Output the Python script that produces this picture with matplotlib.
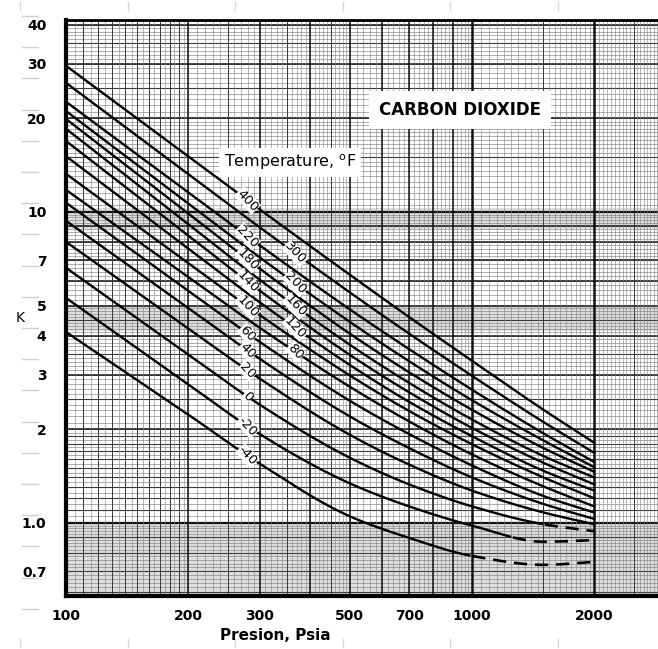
import numpy as np
import matplotlib
matplotlib.use("Agg")
import matplotlib.pyplot as plt
from matplotlib.lines import Line2D

# ---- data: K-values of CO2 vs pressure (psia) for each temperature (deg F) ----
pressure = [100, 200, 300, 500, 700, 1000, 1500, 2000]

k_400 = [29.5, 15.10, 10.19, 6.28, 4.59, 3.32, 2.31, 1.81]
k_300 = [26.0, 13.24, 8.92, 5.51, 4.06, 2.97, 2.11, 1.68]
k_220 = [22.6, 11.55, 7.81, 4.86, 3.62, 2.68, 1.94, 1.57]
k_200 = [21.1, 10.65, 7.14, 4.43, 3.31, 2.48, 1.84, 1.51]
k_180 = [19.9, 9.89, 6.57, 4.06, 3.05, 2.31, 1.74, 1.46]
k_160 = [18.5, 9.14, 6.05, 3.74, 2.82, 2.15, 1.64, 1.40]
k_140 = [16.9, 8.40, 5.58, 3.47, 2.63, 2.02, 1.56, 1.33]
k_120 = [15.1, 7.63, 5.12, 3.22, 2.45, 1.90, 1.47, 1.27]
k_100 = [13.25, 6.85, 4.66, 2.98, 2.29, 1.79, 1.40, 1.20]
k_80 = [11.77, 6.18, 4.24, 2.74, 2.12, 1.66, 1.31, 1.13]
k_60 = [10.7, 5.58, 3.82, 2.47, 1.93, 1.53, 1.22, 1.08]
k_40 = [9.36, 4.91, 3.37, 2.20, 1.74, 1.40, 1.15, 1.03]
k_20 = [8.01, 4.22, 2.91, 1.92, 1.54, 1.27, 1.08, 0.99]
k_0 = [6.61, 3.48, 2.40, 1.62, 1.33, 1.13, 0.99, 0.94]
k_m20 = [5.29, 2.79, 1.93, 1.34, 1.13, 0.98, 0.87, 0.88]
k_m40 = [4.11, 2.23, 1.55, 1.05, 0.895, 0.783, 0.733, 0.749]

temperatures = [400, 300, 220, 200, 180, 160, 140, 120, 100, 80, 60, 40, 20, 0, -20, -40]
curves = [k_400, k_300, k_220, k_200, k_180, k_160, k_140, k_120, k_100, k_80,
          k_60, k_40, k_20, k_0, k_m20, k_m40]

# pressure above which a curve is drawn dashed (extrapolated region)
dashed_from = {0: 1500, -20: 1250, -40: 1000}

# curve labels: left column / right column
labels_left = [400, 220, 180, 140, 100, 60, 40, 20, 0, -20, -40]
labels_right = [300, 200, 160, 120, 80]
label_p_left = 280
label_p_right = 367

x_ticks = [100, 200, 300, 500, 700, 1000, 2000]
x_ticklabels = ["100", "200", "300", "500", "700", "1000", "2000"]
y_ticks = [0.7, 1.0, 2, 3, 4, 5, 7, 10, 20, 30, 40]
y_ticklabels = ["0.7", "1.0", "2", "3", "4", "5", "7", "10", "20", "30", "40"]


def pchip(x, y, xn):
    """Monotone cubic interpolation (Fritsch-Carlson)."""
    x = np.asarray(x, float)
    y = np.asarray(y, float)
    h = np.diff(x)
    delta = np.diff(y) / h
    d = np.zeros_like(y)
    for k in range(1, len(x) - 1):
        if delta[k - 1] * delta[k] > 0:
            w1 = 2 * h[k] + h[k - 1]
            w2 = h[k] + 2 * h[k - 1]
            d[k] = (w1 + w2) / (w1 / delta[k - 1] + w2 / delta[k])
    d[0] = delta[0]
    d[-1] = delta[-1]
    idx = np.clip(np.searchsorted(x, xn) - 1, 0, len(x) - 2)
    t = (xn - x[idx]) / h[idx]
    h00 = 2 * t**3 - 3 * t**2 + 1
    h10 = t**3 - 2 * t**2 + t
    h01 = -2 * t**3 + 3 * t**2
    h11 = t**3 - t**2
    return (h00 * y[idx] + h10 * h[idx] * d[idx]
            + h01 * y[idx + 1] + h11 * h[idx] * d[idx + 1])


def curve_k(p_vals, k_vals, p_new):
    lp = np.log10(p_vals)
    lk = np.log10(k_vals)
    return 10 ** pchip(lp, lk, np.log10(p_new))


W, H = 658, 649
fig = plt.figure(figsize=(W / 100, H / 100), dpi=100)
fig.patch.set_facecolor("white")

left_px, right_px, top_px, bot_px = 66, 658, 20, 596
ax = fig.add_axes([left_px / W, 1 - bot_px / H,
                   (right_px - left_px) / W, (bot_px - top_px) / H])
ax.set_xscale("log")
ax.set_yscale("log")
xmax = 10 ** (2 + (right_px - left_px) / 406.0)
ax.set_xlim(100, xmax)
ax.set_ylim(0.582, 41.4)

# ---- graph-paper grid ----
def hline(v, lw, c):
    ax.axhline(v, color=c, lw=lw, zorder=1)


def vline(v, lw, c):
    ax.axvline(v, color=c, lw=lw, zorder=1)


minor_c, mid_c, major_c = "#808080", "#3a3a3a", "#111111"

# shaded dense bands of the paper
for lo, hi in [(0.582, 1.0), (8.8, 10.3), (4.15, 5.0)]:
    ax.axhspan(lo, hi, color="#c4c4c4", alpha=0.55, lw=0, zorder=0.5)

# horizontal lines
for v in np.arange(0.58, 1.0, 0.02):
    hline(v, 0.45, minor_c)
for v in np.arange(0.6, 1.0, 0.1):
    hline(v, 0.8, mid_c)
for v in np.arange(1.0, 2.0, 0.05):
    hline(v, 0.45, minor_c)
for v in np.arange(2.0, 5.0, 0.1):
    hline(v, 0.45, minor_c)
for v in np.arange(5.0, 10.0, 0.2):
    hline(v, 0.45, minor_c)
for v in np.arange(10.0, 20.0, 0.5):
    hline(v, 0.45, minor_c)
for v in np.arange(20.0, 42.0, 1.0):
    hline(v, 0.45, minor_c)
for v in list(np.arange(1.1, 2.0, 0.1)) + [2.5, 3.5, 4.5, 15, 25, 35]:
    hline(v, 0.8, mid_c)
for v in [2, 3, 4, 5, 6, 7, 8, 9, 20, 30, 40]:
    hline(v, 1.1, major_c)
for v in [1.0, 10.0]:
    hline(v, 1.6, major_c)

# vertical lines
for v in np.arange(100, 200, 5):
    vline(v, 0.4, minor_c)
for v in np.arange(200, 500, 10):
    vline(v, 0.4, minor_c)
for v in np.arange(500, 1000, 20):
    vline(v, 0.4, minor_c)
for v in np.arange(1000, 3000, 50):
    vline(v, 0.4, minor_c)
for v in list(np.arange(110, 200, 10)) + [250, 350, 450, 1500, 2500]:
    vline(v, 0.7, mid_c)
for v in [200, 300, 400, 500, 600, 700, 800, 900]:
    vline(v, 1.1, major_c)
for v in [1000, 2000]:
    vline(v, 1.8, major_c)

# ---- curves ----
p_fine = np.logspace(2, np.log10(2000), 300)
for t, kv in zip(temperatures, curves):
    k_fine = curve_k(pressure, kv, p_fine)
    if t in dashed_from:
        p0 = dashed_from[t]
        solid = p_fine <= p0
        ax.plot(p_fine[solid], k_fine[solid], color="black", lw=1.7,
                zorder=3, solid_capstyle="butt")
        ax.plot(p_fine[p_fine >= p0], k_fine[p_fine >= p0], color="black",
                lw=1.9, zorder=3, linestyle=(0, (5, 3)))
    else:
        ax.plot(p_fine, k_fine, color="black", lw=1.7, zorder=3)

# ---- curve labels ----
def put_label(t, p):
    kv = curves[temperatures.index(t)]
    k = curve_k(pressure, kv, np.array([p]))[0]
    ax.text(p, k, str(t), rotation=-47, ha="center", va="center",
            fontsize=9.5, color="black", zorder=4,
            bbox=dict(boxstyle="square,pad=0.02", fc="white", ec="none"))


for t in labels_left:
    put_label(t, label_p_left)
for t in labels_right:
    put_label(t, label_p_right)

# ---- titles ----
ax.text(935, 21.3, "CARBON DIOXIDE", ha="center", va="center", fontsize=12,
        fontweight="bold", zorder=5, family="DejaVu Sans",
        bbox=dict(boxstyle="square,pad=0.6", fc="white", ec="none"))
ax.text(356, 14.4, r"Temperature, $^{\mathregular{o}}$F", ha="center",
        va="center", fontsize=11.5, zorder=5, family="DejaVu Sans",
        bbox=dict(boxstyle="square,pad=0.3", fc="white", ec="none"))

# ---- axes, ticks ----
ax.set_xticks(x_ticks)
ax.set_xticklabels(x_ticklabels)
ax.set_yticks(y_ticks)
ax.set_yticklabels(y_ticklabels)
ax.xaxis.set_minor_locator(matplotlib.ticker.NullLocator())
ax.yaxis.set_minor_locator(matplotlib.ticker.NullLocator())
ax.tick_params(axis="both", length=0, labelsize=10)
ax.tick_params(axis="x", pad=9)
ax.tick_params(axis="y", pad=14)
for lab in ax.get_xticklabels() + ax.get_yticklabels():
    lab.set_fontweight("bold")

ax.spines["right"].set_visible(False)
ax.spines["left"].set_linewidth(3.0)
ax.spines["bottom"].set_linewidth(3.0)
ax.spines["top"].set_linewidth(2.0)
for s in ax.spines.values():
    s.set_zorder(6)

fig.text(20 / W, 1 - 318 / H, "K", fontsize=10, ha="center", va="center")
fig.text(275 / W, 1 - 636 / H, "Presion, Psia", fontsize=11,
         fontweight="bold", ha="center", va="center")

# faint page ruler marks in the margins
for yy in np.arange(16, 640, 31.2):
    fig.add_artist(Line2D([22 / W, 38 / W], [1 - yy / H, 1 - yy / H],
                          color="#d0d0d0", lw=1.0))
for xx in np.arange(20, 658, 107.5):
    fig.add_artist(Line2D([xx / W, xx / W], [1 - 2 / H, 1 - 10 / H],
                          color="#d8d8d8", lw=1.0))
    fig.add_artist(Line2D([xx / W, xx / W], [1 - 639 / H, 1 - 647 / H],
                          color="#d8d8d8", lw=1.0))

fig.savefig("out.png", dpi=100, facecolor="white")
